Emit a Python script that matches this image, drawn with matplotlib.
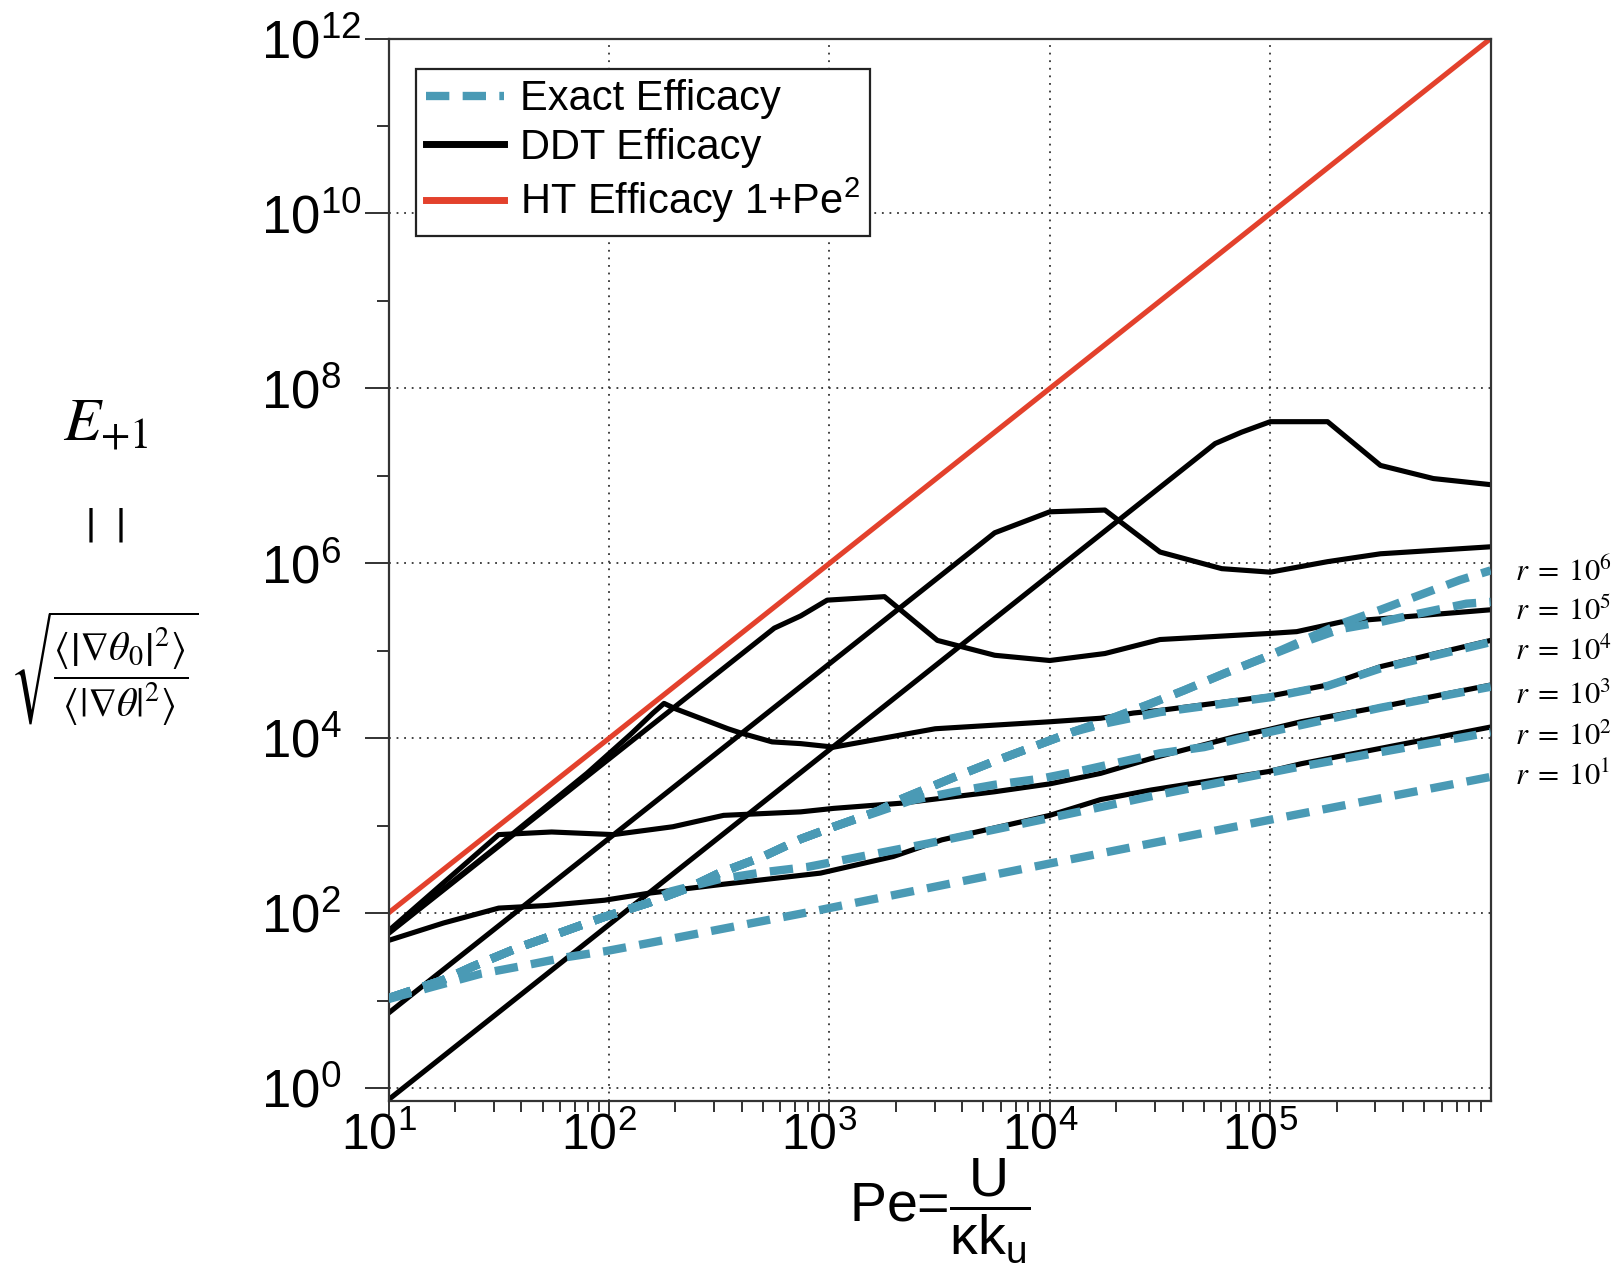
import numpy as np
import matplotlib
matplotlib.use("Agg")
import matplotlib.pyplot as plt
from matplotlib.lines import Line2D
from matplotlib.ticker import FixedLocator, FuncFormatter, NullFormatter
from matplotlib.transforms import ScaledTranslation

plt.rcParams["font.family"] = ["Liberation Sans", "DejaVu Sans"]
plt.rcParams["mathtext.fontset"] = "custom"
plt.rcParams["mathtext.rm"] = "Liberation Sans"
plt.rcParams["mathtext.it"] = "Liberation Sans:italic"
plt.rcParams["mathtext.sf"] = "Liberation Sans"

# all curves are given as log10(Pe), log10(efficacy)

# DDT efficacy, one curve per run (named by where it ends)
ddt_a_lpe = [1.0, 1.25, 1.5, 1.72, 1.98, 2.18, 2.51, 2.96, 3.29, 3.51, 4.0, 4.23, 4.46, 4.99, 5.14, 6.0]
ddt_a_le = [1.69, 1.89, 2.06, 2.09, 2.15, 2.23, 2.33, 2.46, 2.65, 2.84, 3.12, 3.30, 3.41, 3.62, 3.71, 4.13]

ddt_b_lpe = [1.0, 1.5, 1.74, 2.02, 2.29, 2.52, 2.87, 3.02, 3.33, 3.75, 4.0, 4.23, 4.46, 4.84, 4.99, 5.14, 5.5, 6.0]
ddt_b_le = [1.80, 2.90, 2.93, 2.90, 2.99, 3.12, 3.16, 3.20, 3.26, 3.39, 3.48, 3.60, 3.77, 4.02, 4.10, 4.19, 4.36, 4.61]

ddt_c_lpe = [1.0, 1.5, 1.9, 2.1, 2.2, 2.25, 2.3, 2.54, 2.6, 2.74, 2.87, 3.02, 3.48, 4.0, 4.23, 4.38, 4.5, 4.99, 5.26, 5.5, 6.0]
ddt_c_le = [1.78, 2.78, 3.60, 4.05, 4.29, 4.40, 4.34, 4.11, 4.06, 3.96, 3.94, 3.90, 4.11, 4.19, 4.23, 4.29, 4.32, 4.48, 4.61, 4.82, 5.12]

ddt_d_lpe = [1.0, 2.75, 2.87, 2.99, 3.25, 3.49, 3.75, 4.0, 4.25, 4.5, 5.0, 5.12, 5.32, 6.0]
ddt_d_le = [1.77, 5.26, 5.40, 5.58, 5.62, 5.12, 4.95, 4.89, 4.97, 5.13, 5.20, 5.22, 5.33, 5.47]

ddt_e_lpe = [1.0, 3.75, 4.0, 4.25, 4.5, 4.78, 5.0, 5.26, 5.5, 6.0]
ddt_e_le = [0.86, 6.35, 6.59, 6.61, 6.13, 5.94, 5.90, 6.02, 6.11, 6.19]

ddt_f_lpe = [1.0, 4.75, 4.87, 5.0, 5.26, 5.5, 5.74, 6.0]
ddt_f_le = [-0.13, 7.37, 7.50, 7.62, 7.62, 7.12, 6.97, 6.90]

# exact efficacy for r = 10^1 ... 10^6
exact_r1_lpe = [1.0, 1.2, 1.42, 1.61, 1.81, 1.99, 2.18, 2.96, 4.0, 5.1, 6.0]
exact_r1_le = [1.02, 1.16, 1.31, 1.40, 1.50, 1.57, 1.66, 2.04, 2.57, 3.12, 3.56]

exact_r2_lpe = [1.0, 1.25, 1.38, 1.59, 1.77, 1.98, 2.18, 2.28, 2.5, 2.7, 2.9, 3.45, 4.0, 4.5, 5.1, 6.0]
exact_r2_le = [1.03, 1.24, 1.39, 1.61, 1.77, 1.96, 2.12, 2.25, 2.39, 2.47, 2.53, 2.80, 3.09, 3.36, 3.66, 4.07]

exact_r3_lpe = [1.0, 1.25, 1.38, 1.59, 1.77, 1.98, 2.18, 2.36, 2.5, 2.7, 2.87, 3.02, 3.22, 3.37, 3.57, 3.75,
                3.96, 4.16, 4.32, 4.5, 4.7, 4.9, 5.1, 5.5, 6.0]
exact_r3_le = [1.03, 1.24, 1.39, 1.61, 1.77, 1.96, 2.12, 2.29, 2.46, 2.65, 2.85, 2.99, 3.16, 3.29, 3.39, 3.47,
               3.54, 3.64, 3.73, 3.83, 3.90, 4.02, 4.13, 4.35, 4.59]

exact_r4_lpe = [1.0, 1.25, 1.38, 1.59, 1.77, 1.98, 2.18, 2.36, 2.5, 2.7, 2.87, 3.02, 3.22, 3.33, 3.56, 3.74,
                3.92, 4.1, 4.25, 4.5, 5.0, 5.26, 5.5, 6.0]
exact_r4_le = [1.03, 1.24, 1.39, 1.61, 1.77, 1.96, 2.12, 2.29, 2.46, 2.65, 2.85, 2.99, 3.17, 3.31, 3.55, 3.73,
               3.90, 4.07, 4.17, 4.30, 4.47, 4.60, 4.80, 5.10]

exact_r5_lpe = [1.0, 1.25, 1.38, 1.59, 1.77, 1.98, 2.18, 2.36, 2.5, 2.7, 2.87, 3.02, 3.22, 3.33, 3.56, 3.74,
                3.92, 4.1, 4.25, 4.45, 4.61, 4.79, 4.97, 5.14, 5.32, 5.5, 5.68, 5.89, 6.0]
exact_r5_le = [1.03, 1.24, 1.39, 1.61, 1.77, 1.96, 2.12, 2.29, 2.46, 2.65, 2.85, 2.99, 3.17, 3.31, 3.55, 3.73,
               3.90, 4.07, 4.20, 4.39, 4.55, 4.74, 4.92, 5.09, 5.25, 5.33, 5.43, 5.54, 5.56]

exact_r6_lpe = [1.0, 1.25, 1.38, 1.59, 1.77, 1.98, 2.18, 2.36, 2.5, 2.7, 2.87, 3.02, 3.22, 3.33, 3.56, 3.74,
                3.92, 4.1, 4.25, 4.45, 4.61, 4.79, 4.97, 5.14, 5.32, 5.5, 5.68, 5.86, 6.0]
exact_r6_le = [1.03, 1.24, 1.39, 1.61, 1.77, 1.96, 2.12, 2.29, 2.46, 2.65, 2.85, 2.99, 3.17, 3.31, 3.55, 3.73,
               3.90, 4.07, 4.20, 4.39, 4.55, 4.74, 4.92, 5.11, 5.31, 5.47, 5.64, 5.81, 5.92]

# homogenisation theory: 1 + Pe^2
ht_pe = np.array([1e1, 1e2, 1e3, 1e4, 1e5, 1e6])

r_labels = [r"$r\;=\;10^{6}$", r"$r\;=\;10^{5}$", r"$r\;=\;10^{4}$",
            r"$r\;=\;10^{3}$", r"$r\;=\;10^{2}$", r"$r\;=\;10^{1}$"]
r_label_le = [5.90, 5.45, 4.99, 4.49, 4.02, 3.56]

TEAL = "#4a9ab5"
RED = "#e3412c"

ddt_curves = [(ddt_a_lpe, ddt_a_le), (ddt_b_lpe, ddt_b_le), (ddt_c_lpe, ddt_c_le),
              (ddt_d_lpe, ddt_d_le), (ddt_e_lpe, ddt_e_le), (ddt_f_lpe, ddt_f_le)]
exact_curves = [(exact_r1_lpe, exact_r1_le), (exact_r2_lpe, exact_r2_le), (exact_r3_lpe, exact_r3_le),
                (exact_r4_lpe, exact_r4_le), (exact_r5_lpe, exact_r5_le), (exact_r6_lpe, exact_r6_le)]

W, H = 1613, 1288
fig = plt.figure(figsize=(W / 100, H / 100), dpi=100)
ax_l, ax_r, ax_t, ax_b = 388.5, 1490.7, 38.5, 1101.0
ax = fig.add_axes([ax_l / W, 1 - ax_b / H, (ax_r - ax_l) / W, (ax_b - ax_t) / H])

for lpe, le in ddt_curves:
    ax.plot(10 ** np.array(lpe), 10 ** np.array(le), color="black", lw=3.7,
            solid_joinstyle="round", zorder=2)

ax.plot(ht_pe, 1 + ht_pe ** 2, color=RED, lw=3.7, zorder=2.5)

for lpe, le in exact_curves:
    ax.plot(10 ** np.array(lpe), 10 ** np.array(le), color=TEAL, lw=6.0,
            dashes=(2.8, 1.6), zorder=3)

ax.set_xscale("log")
ax.set_yscale("log")
ax.set_xlim(1e1, 1e6)
ax.set_ylim(10 ** -0.145, 1e12)

# ticks: labelled decades, odd y decades as short unlabelled ticks
ax.set_xticks([1e1, 1e2, 1e3, 1e4, 1e5])
ax.set_yticks([10.0 ** k for k in range(0, 13, 2)])
ax.yaxis.set_minor_locator(FixedLocator([10.0 ** k for k in range(1, 12, 2)]))
ax.yaxis.set_minor_formatter(NullFormatter())
ax.xaxis.set_minor_formatter(NullFormatter())
fmt = FuncFormatter(lambda v, p: r"$\mathregular{10^{%d}}$" % round(np.log10(v)))
ax.xaxis.set_major_formatter(fmt)
ax.yaxis.set_major_formatter(fmt)

ax.tick_params(which="both", direction="out", color="#222", width=1.3, top=False, right=False)
ax.tick_params(axis="y", which="major", length=17, pad=75, labelsize=38)
ax.tick_params(axis="y", which="minor", length=9)
ax.tick_params(axis="x", which="major", length=10, pad=-2, labelsize=36)
ax.tick_params(axis="x", which="minor", length=8)
for lab in ax.get_yticklabels():
    lab.set_horizontalalignment("left")
shift = ScaledTranslation(-10 / 100, 0, fig.dpi_scale_trans)
for lab in ax.get_xticklabels():
    lab.set_transform(lab.get_transform() + shift)

for sp in ax.spines.values():
    sp.set_linewidth(1.6)
    sp.set_color("#333")

ax.set_axisbelow(True)
ax.grid(True, which="major", color="#333", linestyle=(0, (1, 3.2)), linewidth=1.3)

# legend
h_exact = Line2D([], [], color=TEAL, lw=6, dashes=(2.8, 1.6))
h_ddt = Line2D([], [], color="black", lw=5)
h_ht = Line2D([], [], color=RED, lw=5)
leg = ax.legend([h_exact, h_ddt, h_ht],
                ["Exact Efficacy", "DDT Efficacy", "HT Efficacy 1+Pe$^2$"],
                loc="upper left", bbox_to_anchor=(416 / W, 1 - 69 / H),
                bbox_transform=fig.transFigure, fontsize=30, fancybox=False,
                edgecolor="#222", framealpha=1, borderpad=0.25, labelspacing=0.2,
                handlelength=1.85, handletextpad=0.4, borderaxespad=0)
leg.get_frame().set_linewidth(1.6)

# r labels beside the right edge
for txt, yv in zip(r_labels, r_label_le):
    ax.annotate(txt, xy=(1, 10 ** yv), xycoords=("axes fraction", "data"),
                xytext=(17.5, 0), textcoords="offset points", ha="left", va="center",
                fontsize=22, math_fontfamily="stix", annotation_clip=False)

# y label, stacked
fig.text(106 / W, 1 - 425 / H, r"$E_{+1}$", fontsize=44, ha="center", va="center",
         math_fontfamily="stix")
fig.text(104 / W, 1 - 528 / H, r"$|\;\;|$", fontsize=36, ha="center", va="center",
         math_fontfamily="stix")
fig.text(104 / W, 1 - 668 / H,
         r"$\sqrt{\dfrac{\left\langle\left|\nabla\theta_0\right|^2\right\rangle}"
         r"{\left\langle\left|\nabla\theta\right|^2\right\rangle}}$",
         fontsize=29, ha="center", va="center", math_fontfamily="stix")

# x label
fig.text(940 / W, 1 - 1211 / H, r"Pe=$\mathregular{\dfrac{U}{\kappa k_u}}$",
         fontsize=40, ha="center", va="center")

fig.savefig("out.png", dpi=100)
